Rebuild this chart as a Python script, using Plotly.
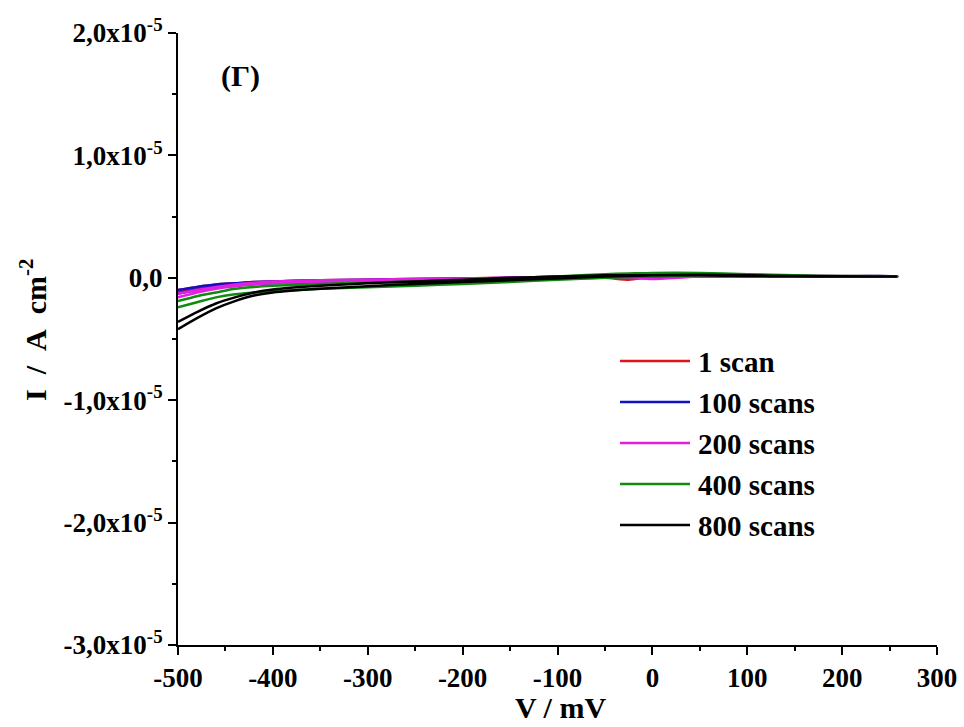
import plotly.graph_objects as go

# Potential grid (mV) for forward (lower) and reverse (upper) branches
V = [-500, -480, -460, -440, -420, -400, -350, -300, -250, -200, -150, -100, -50, -25, 0, 50, 100, 150, 200, 258]

# Current density (A cm^-2), lower branch then upper branch per series
red_lo = [-0.12e-5, -0.09e-5, -0.07e-5, -0.055e-5, -0.045e-5, -0.04e-5, -0.03e-5, -0.025e-5, -0.02e-5, -0.015e-5, -0.01e-5, -0.005e-5, 0.0, -0.015e-5, 0.005e-5, 0.01e-5, 0.01e-5, 0.01e-5, 0.01e-5, 0.01e-5]
red_up = [-0.1e-5, -0.075e-5, -0.055e-5, -0.045e-5, -0.035e-5, -0.03e-5, -0.02e-5, -0.015e-5, -0.01e-5, -0.005e-5, 0.0, 0.005e-5, 0.01e-5, 0.015e-5, 0.015e-5, 0.015e-5, 0.015e-5, 0.012e-5, 0.01e-5, 0.01e-5]
blue_lo = [-0.13e-5, -0.1e-5, -0.075e-5, -0.06e-5, -0.05e-5, -0.045e-5, -0.035e-5, -0.03e-5, -0.025e-5, -0.02e-5, -0.012e-5, -0.005e-5, 0.0, 0.005e-5, 0.01e-5, 0.01e-5, 0.01e-5, 0.01e-5, 0.01e-5, 0.01e-5]
blue_up = [-0.1e-5, -0.075e-5, -0.055e-5, -0.045e-5, -0.035e-5, -0.03e-5, -0.02e-5, -0.015e-5, -0.01e-5, -0.005e-5, 0.0, 0.01e-5, 0.015e-5, 0.02e-5, 0.02e-5, 0.02e-5, 0.015e-5, 0.012e-5, 0.012e-5, 0.012e-5]
mag_lo = [-0.16e-5, -0.12e-5, -0.09e-5, -0.07e-5, -0.055e-5, -0.045e-5, -0.035e-5, -0.03e-5, -0.025e-5, -0.02e-5, -0.01e-5, 0.0, 0.005e-5, 0.0, -0.01e-5, 0.01e-5, 0.01e-5, 0.01e-5, 0.01e-5, 0.01e-5]
mag_up = [-0.13e-5, -0.1e-5, -0.075e-5, -0.055e-5, -0.04e-5, -0.03e-5, -0.02e-5, -0.015e-5, -0.01e-5, -0.005e-5, 0.0, 0.01e-5, 0.02e-5, 0.02e-5, 0.02e-5, 0.02e-5, 0.02e-5, 0.02e-5, 0.015e-5, 0.012e-5]
grn_lo = [-0.24e-5, -0.2e-5, -0.16e-5, -0.135e-5, -0.12e-5, -0.11e-5, -0.09e-5, -0.078e-5, -0.065e-5, -0.05e-5, -0.035e-5, -0.015e-5, 0.0, 0.005e-5, 0.01e-5, 0.02e-5, 0.02e-5, 0.015e-5, 0.012e-5, 0.01e-5]
grn_up = [-0.19e-5, -0.15e-5, -0.12e-5, -0.09e-5, -0.075e-5, -0.065e-5, -0.05e-5, -0.04e-5, -0.03e-5, -0.02e-5, -0.01e-5, 0.01e-5, 0.03e-5, 0.035e-5, 0.04e-5, 0.04e-5, 0.03e-5, 0.02e-5, 0.015e-5, 0.012e-5]
blk_lo = [-0.42e-5, -0.33e-5, -0.25e-5, -0.19e-5, -0.145e-5, -0.12e-5, -0.09e-5, -0.07e-5, -0.05e-5, -0.035e-5, -0.02e-5, -0.005e-5, 0.01e-5, 0.015e-5, 0.02e-5, 0.025e-5, 0.02e-5, 0.015e-5, 0.012e-5, 0.01e-5]
blk_up = [-0.36e-5, -0.28e-5, -0.21e-5, -0.16e-5, -0.12e-5, -0.095e-5, -0.065e-5, -0.045e-5, -0.03e-5, -0.015e-5, 0.0, 0.01e-5, 0.02e-5, 0.02e-5, 0.02e-5, 0.02e-5, 0.015e-5, 0.012e-5, 0.01e-5, 0.01e-5]

names = ["1 scan", "100 scans", "200 scans", "400 scans", "800 scans"]
colors = ["#e0141e", "#1010c8", "#e020e0", "#108a10", "#000000"]
series = [(red_lo, red_up), (blue_lo, blue_up), (mag_lo, mag_up), (grn_lo, grn_up), (blk_lo, blk_up)]

ytick_vals = [2e-5, 1e-5, 0, -1e-5, -2e-5, -3e-5]
ytick_text = ["2,0x10<sup>-5</sup>", "1,0x10<sup>-5</sup>", "0,0", "-1,0x10<sup>-5</sup>",
              "-2,0x10<sup>-5</sup>", "-3,0x10<sup>-5</sup>"]
xtick_vals = [-500, -400, -300, -200, -100, 0, 100, 200, 300]
xtick_text = ["-500", "-400", "-300", "-200", "-100", "0", "100", "200", "300"]

FONT = "Liberation Serif, Times New Roman, serif"

fig = go.Figure()
for (lo, up), nm, c in zip(series, names, colors):
    xs = V + V[::-1]
    ys = lo + up[::-1]
    fig.add_trace(go.Scatter(x=xs, y=ys, mode="lines", name=nm,
                             line=dict(color=c, width=2.5, shape="spline", smoothing=0.6),
                             showlegend=False))

# Manual legend (long line samples as in reference)
L, R, T, B = 178, 27, 33, 82
W, H = 964 - L - R, 727 - T - B
def px(x):
    return (x - L) / W
def py(y):
    return (727 - B - y) / H

leg_y = [361, 402, 443, 484, 525]
for yy, nm, c in zip(leg_y, names, colors):
    fig.add_shape(type="line", xref="paper", yref="paper",
                  x0=px(620), x1=px(690), y0=py(yy), y1=py(yy),
                  line=dict(color=c, width=2.5))
    fig.add_annotation(xref="paper", yref="paper", x=px(696), y=py(yy + 1),
                       text=nm, showarrow=False, xanchor="left", yanchor="middle",
                       font=dict(family=FONT, size=29, color="black", weight="bold"))

fig.add_annotation(xref="paper", yref="paper", x=px(219), y=py(76),
                   text="(Γ)", showarrow=False, xanchor="left", yanchor="middle",
                   font=dict(family=FONT, size=30, color="black", weight="bold"))
fig.add_annotation(xref="paper", yref="paper", x=px(560), y=py(707),
                   text="V / mV", showarrow=False, xanchor="center", yanchor="middle",
                   font=dict(family=FONT, size=30, color="black", weight="bold"))
fig.add_annotation(xref="paper", yref="paper", x=px(33), y=py(330),
                   text="I\u2002/\u2002A\u2002cm<sup>-2</sup>", showarrow=False, textangle=-90,
                   xanchor="center", yanchor="middle",
                   font=dict(family=FONT, size=30, color="black", weight="bold"))

axis_common = dict(showline=True, linecolor="black", linewidth=2, mirror=False,
                   ticks="outside", ticklen=8, tickwidth=2, tickcolor="black",
                   showgrid=False, zeroline=False, automargin=False,
                   tickfont=dict(family=FONT, size=27, color="black", weight="bold"))

fig.update_xaxes(range=[-500, 300], tickvals=xtick_vals, ticktext=xtick_text,
                 minor=dict(dtick=50, tick0=0, ticks="outside", ticklen=4, tickwidth=2, tickcolor="black"),
                 **axis_common)
fig.update_yaxes(range=[-3e-5, 2e-5], tickvals=ytick_vals, ticktext=ytick_text,
                 minor=dict(dtick=0.5e-5, tick0=0, ticks="outside", ticklen=4, tickwidth=2, tickcolor="black"),
                 **axis_common)

fig.update_layout(width=964, height=727, margin=dict(l=L, r=R, t=T, b=B),
                  plot_bgcolor="white", paper_bgcolor="white", showlegend=False)

fig.write_html("out.html")
